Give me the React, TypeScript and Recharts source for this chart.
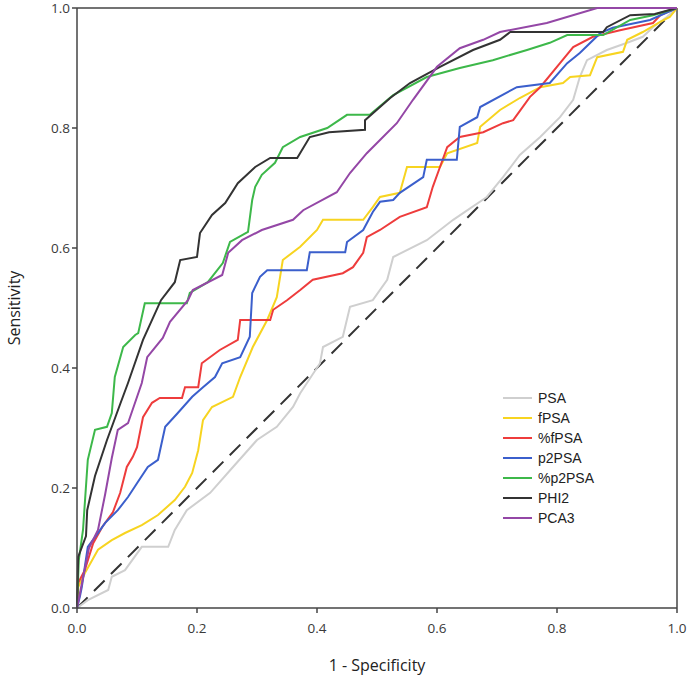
import React from "react";
import {
  LineChart,
  Line,
  XAxis,
  YAxis,
  ReferenceLine,
} from "recharts";

// ROC points as [1 - specificity, sensitivity]
const psa: [number, number][] = [
  [0, 0], [0.018, 0.013], [0.052, 0.03], [0.058, 0.052], [0.08, 0.063],
  [0.108, 0.102], [0.152, 0.102], [0.163, 0.13], [0.183, 0.163], [0.222, 0.192],
  [0.26, 0.235], [0.3, 0.28], [0.333, 0.302], [0.36, 0.335], [0.372, 0.358],
  [0.405, 0.408], [0.41, 0.435], [0.443, 0.452], [0.455, 0.502], [0.493, 0.513],
  [0.517, 0.547], [0.527, 0.585], [0.583, 0.613], [0.627, 0.647], [0.683, 0.685],
  [0.71, 0.718], [0.738, 0.755], [0.772, 0.785], [0.805, 0.818], [0.827, 0.847],
  [0.838, 0.885], [0.85, 0.913], [0.883, 0.93], [0.917, 0.942], [0.943, 0.952],
  [0.96, 0.968], [0.983, 0.985], [1, 1],
];

const fpsa: [number, number][] = [
  [0, 0], [0.002, 0.035], [0.013, 0.058], [0.035, 0.097], [0.058, 0.113],
  [0.08, 0.125], [0.108, 0.138], [0.135, 0.155], [0.163, 0.18], [0.18, 0.202],
  [0.192, 0.225], [0.202, 0.263], [0.21, 0.313], [0.225, 0.335], [0.26, 0.352],
  [0.272, 0.385], [0.293, 0.435], [0.317, 0.48], [0.333, 0.518], [0.343, 0.58],
  [0.372, 0.602], [0.4, 0.63], [0.41, 0.647], [0.477, 0.647], [0.493, 0.668],
  [0.505, 0.685], [0.538, 0.692], [0.55, 0.735], [0.605, 0.735], [0.617, 0.758],
  [0.667, 0.775], [0.672, 0.802], [0.705, 0.83], [0.738, 0.85], [0.772, 0.868],
  [0.81, 0.875], [0.822, 0.885], [0.855, 0.888], [0.867, 0.918], [0.91, 0.927],
  [0.917, 0.947], [0.943, 0.96], [0.972, 0.977], [0.988, 0.985], [1, 1],
];

const pctFpsa: [number, number][] = [
  [0, 0], [0.002, 0.042], [0.013, 0.063], [0.027, 0.108], [0.042, 0.135],
  [0.06, 0.16], [0.072, 0.192], [0.083, 0.235], [0.093, 0.252], [0.1, 0.268],
  [0.11, 0.318], [0.125, 0.342], [0.138, 0.35], [0.175, 0.35], [0.18, 0.368],
  [0.202, 0.368], [0.208, 0.408], [0.238, 0.43], [0.268, 0.447], [0.272, 0.48],
  [0.322, 0.48], [0.327, 0.497], [0.35, 0.513], [0.372, 0.53], [0.393, 0.547],
  [0.443, 0.558], [0.46, 0.568], [0.477, 0.592], [0.483, 0.618], [0.505, 0.63],
  [0.538, 0.652], [0.583, 0.668], [0.593, 0.702], [0.605, 0.735], [0.617, 0.768],
  [0.638, 0.785], [0.677, 0.793], [0.71, 0.808], [0.727, 0.813], [0.755, 0.852],
  [0.772, 0.868], [0.805, 0.908], [0.827, 0.935], [0.86, 0.952], [0.905, 0.963],
  [0.96, 0.975], [0.972, 0.988], [1, 1],
];

const p2psa: [number, number][] = [
  [0, 0], [0.005, 0.02], [0.008, 0.035], [0.018, 0.102], [0.03, 0.118],
  [0.047, 0.142], [0.068, 0.163], [0.085, 0.185], [0.1, 0.208], [0.118, 0.235],
  [0.135, 0.247], [0.147, 0.302], [0.168, 0.325], [0.192, 0.352], [0.21, 0.368],
  [0.23, 0.385], [0.242, 0.408], [0.272, 0.418], [0.288, 0.452], [0.292, 0.525],
  [0.305, 0.552], [0.317, 0.563], [0.383, 0.563], [0.388, 0.593], [0.447, 0.593],
  [0.45, 0.61], [0.477, 0.63], [0.493, 0.66], [0.505, 0.677], [0.527, 0.68],
  [0.538, 0.692], [0.577, 0.718], [0.583, 0.747], [0.633, 0.747], [0.638, 0.802],
  [0.667, 0.818], [0.672, 0.835], [0.733, 0.868], [0.788, 0.875], [0.817, 0.908],
  [0.838, 0.925], [0.872, 0.958], [0.893, 0.967], [0.955, 0.98], [1, 1],
];

const pctP2psa: [number, number][] = [
  [0, 0], [0.003, 0.08], [0.01, 0.13], [0.018, 0.247], [0.03, 0.297],
  [0.05, 0.302], [0.058, 0.325], [0.063, 0.385], [0.077, 0.435], [0.097, 0.455],
  [0.102, 0.458], [0.113, 0.508], [0.183, 0.508], [0.188, 0.525], [0.218, 0.543],
  [0.243, 0.575], [0.255, 0.61], [0.285, 0.627], [0.292, 0.68], [0.297, 0.702],
  [0.308, 0.722], [0.33, 0.742], [0.343, 0.768], [0.372, 0.785], [0.417, 0.8],
  [0.45, 0.822], [0.488, 0.822], [0.527, 0.855], [0.583, 0.885], [0.638, 0.9],
  [0.693, 0.913], [0.75, 0.93], [0.788, 0.942], [0.817, 0.955], [0.877, 0.955],
  [0.922, 0.98], [0.96, 0.988], [1, 1],
];

const phi2: [number, number][] = [
  [0, 0], [0.002, 0.085], [0.015, 0.12], [0.017, 0.163], [0.03, 0.22],
  [0.05, 0.28], [0.072, 0.34], [0.085, 0.375], [0.11, 0.447], [0.14, 0.513],
  [0.163, 0.543], [0.172, 0.58], [0.2, 0.585], [0.205, 0.625], [0.225, 0.655],
  [0.247, 0.675], [0.268, 0.708], [0.297, 0.735], [0.322, 0.75], [0.367, 0.75],
  [0.388, 0.785], [0.42, 0.793], [0.48, 0.797], [0.48, 0.813], [0.522, 0.85],
  [0.555, 0.875], [0.605, 0.902], [0.66, 0.93], [0.705, 0.947], [0.722, 0.96],
  [0.877, 0.96], [0.883, 0.968], [0.922, 0.988], [0.963, 0.99], [1, 1],
];

const pca3: [number, number][] = [
  [0, 0], [0.008, 0.04], [0.02, 0.1], [0.035, 0.13], [0.047, 0.19],
  [0.058, 0.25], [0.068, 0.297], [0.085, 0.308], [0.108, 0.375], [0.117, 0.418],
  [0.143, 0.45], [0.155, 0.477], [0.185, 0.513], [0.193, 0.53], [0.242, 0.555],
  [0.252, 0.592], [0.275, 0.613], [0.308, 0.63], [0.36, 0.647], [0.377, 0.663],
  [0.433, 0.693], [0.455, 0.725], [0.483, 0.758], [0.505, 0.78], [0.533, 0.808],
  [0.56, 0.847], [0.6, 0.902], [0.638, 0.933], [0.677, 0.947], [0.705, 0.96],
  [0.783, 0.975], [0.867, 1], [1, 1],
];

const diagonal: [number, number][] = [[0, 0], [1, 1]];

const axisTicks = [0, 0.2, 0.4, 0.6, 0.8, 1.0];

const series = [
  { name: "PSA", points: psa, color: "#cfcfcf" },
  { name: "fPSA", points: fpsa, color: "#f7d420" },
  { name: "%fPSA", points: pctFpsa, color: "#ee3c3c" },
  { name: "p2PSA", points: p2psa, color: "#3b5fcc" },
  { name: "%p2PSA", points: pctP2psa, color: "#3db84a" },
  { name: "PHI2", points: phi2, color: "#333333" },
  { name: "PCA3", points: pca3, color: "#9447a6" },
];

const toRows = (pts: [number, number][]) => pts.map(([x, y]) => ({ x, y }));

const axisFont = { fontFamily: "Open Sans", fontSize: 13.5, fill: "#3a3a3a" };

// legend drawn as an overlay so it doesn't take room from the plot
const LegendBox = () => (
  <div
    style={{
      position: "absolute",
      left: 503,
      top: 388,
      fontFamily: "Liberation Sans",
      fontSize: 14,
      color: "#222",
    }}
  >
    {series.map((s) => (
      <div key={s.name} style={{ display: "flex", alignItems: "center", height: 20 }}>
        <span style={{ display: "inline-block", width: 29, height: 2, background: s.color, marginRight: 6 }} />
        <span>{s.name}</span>
      </div>
    ))}
  </div>
);

export default function App() {
  return (
    <div style={{ position: "fixed", left: 0, top: 0, width: 694, height: 685, background: "#fff" }}>
      <LineChart width={694} height={685} margin={{ top: 8, right: 17, left: 0, bottom: 0 }}>
        <XAxis
          dataKey="x"
          type="number"
          domain={[0, 1]}
          ticks={axisTicks}
          tickFormatter={(v: number) => v.toFixed(1)}
          height={77}
          tickSize={5}
          tickMargin={10}
          tick={axisFont}
          stroke="#444"
          strokeWidth={1.5}
          label={{ value: "1 - Specificity", position: "insideBottom", offset: 14, style: { fontFamily: "Open Sans", fontSize: 16, fill: "#222" } }}
        />
        <YAxis
          dataKey="y"
          type="number"
          domain={[0, 1]}
          ticks={axisTicks}
          tickFormatter={(v: number) => v.toFixed(1)}
          width={77}
          tickSize={5}
          tick={axisFont}
          stroke="#444"
          strokeWidth={1.5}
          label={{ value: "Sensitivity", angle: -90, position: "insideLeft", offset: 14, style: { textAnchor: "middle", fontFamily: "Open Sans", fontSize: 16, fill: "#222" } }}
        />
        <ReferenceLine y={1} stroke="#444" strokeWidth={1.5} />
        <ReferenceLine x={1} stroke="#444" strokeWidth={1.5} />
        <Line
          data={toRows(diagonal)}
          dataKey="y"
          type="linear"
          stroke="#333"
          strokeWidth={2}
          strokeDasharray="15 9"
          dot={false}
          legendType="none"
          isAnimationActive={false}
        />
        {series.map((s) => (
          <Line
            key={s.name}
            data={toRows(s.points)}
            dataKey="y"
            name={s.name}
            type="linear"
            stroke={s.color}
            strokeWidth={2}
            dot={false}
            isAnimationActive={false}
          />
        ))}
      </LineChart>
      <LegendBox />
    </div>
  );
}
